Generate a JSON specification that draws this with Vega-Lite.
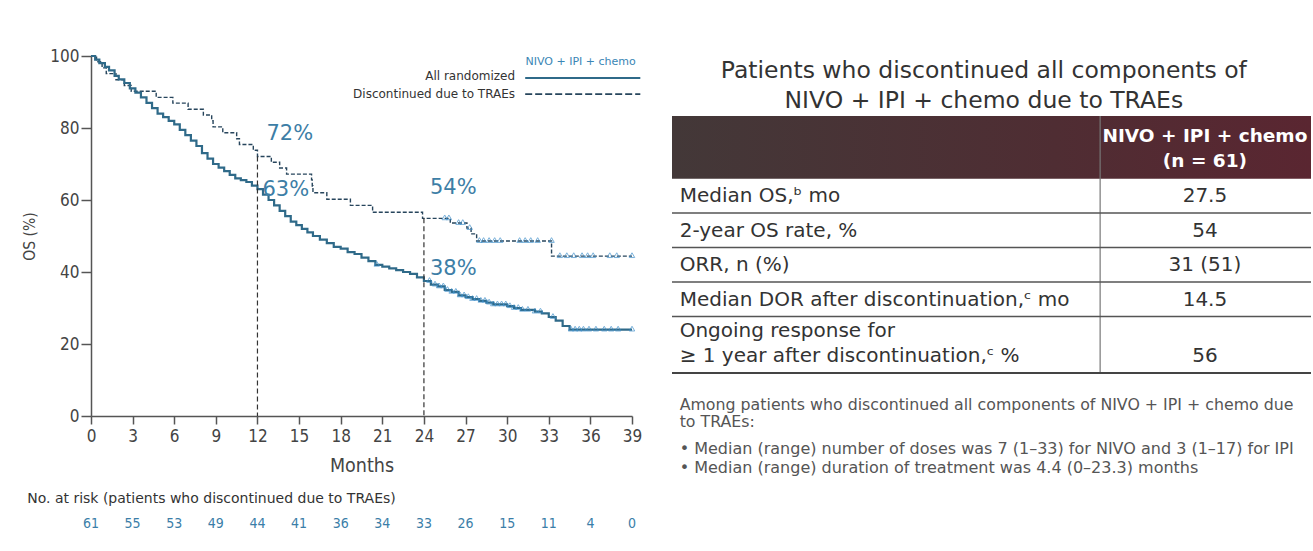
{
  "$schema": "https://vega.github.io/schema/vega-lite/v6.json",
  "padding": {"left": 22, "top": 47, "right": 0, "bottom": 0},
  "bounds": "flush",
  "spacing": 40,
  "background": "white",
  "config": {
    "view": {"stroke": null},
    "font": "DejaVu Sans",
    "axis": {
      "grid": false,
      "domainColor": "#555",
      "domainWidth": 1.5,
      "tickColor": "#555",
      "tickWidth": 1.5,
      "labelColor": "#444",
      "titleColor": "#444",
      "labelFont": "DejaVu Sans Condensed, DejaVu Sans",
      "titleFont": "DejaVu Sans Condensed, DejaVu Sans",
      "titleFontWeight": "normal"
    }
  },
  "datasets": {
    "km": [
      {"arm": "all", "month": 0, "os": 100}, {"arm": "all", "month": 0.3, "os": 99}, {"arm": "all", "month": 0.6, "os": 98},
      {"arm": "all", "month": 1.0, "os": 97}, {"arm": "all", "month": 1.3, "os": 96}, {"arm": "all", "month": 1.7, "os": 94.5},
      {"arm": "all", "month": 2.0, "os": 93.5}, {"arm": "all", "month": 2.4, "os": 92.5}, {"arm": "all", "month": 2.8, "os": 91},
      {"arm": "all", "month": 3.2, "os": 89.8}, {"arm": "all", "month": 3.6, "os": 88.5}, {"arm": "all", "month": 4.0, "os": 87},
      {"arm": "all", "month": 4.4, "os": 85.5}, {"arm": "all", "month": 4.8, "os": 84}, {"arm": "all", "month": 5.2, "os": 83},
      {"arm": "all", "month": 5.6, "os": 82}, {"arm": "all", "month": 6.0, "os": 81}, {"arm": "all", "month": 6.4, "os": 79.5},
      {"arm": "all", "month": 6.8, "os": 78}, {"arm": "all", "month": 7.2, "os": 76.5}, {"arm": "all", "month": 7.6, "os": 75},
      {"arm": "all", "month": 8.0, "os": 73}, {"arm": "all", "month": 8.4, "os": 71.5}, {"arm": "all", "month": 8.8, "os": 70},
      {"arm": "all", "month": 9.2, "os": 69}, {"arm": "all", "month": 9.6, "os": 68}, {"arm": "all", "month": 10.0, "os": 67},
      {"arm": "all", "month": 10.4, "os": 66}, {"arm": "all", "month": 10.8, "os": 65.5}, {"arm": "all", "month": 11.2, "os": 65},
      {"arm": "all", "month": 11.6, "os": 64}, {"arm": "all", "month": 12.0, "os": 63}, {"arm": "all", "month": 12.4, "os": 61.5},
      {"arm": "all", "month": 12.8, "os": 60}, {"arm": "all", "month": 13.2, "os": 58.5}, {"arm": "all", "month": 13.6, "os": 57},
      {"arm": "all", "month": 14.0, "os": 55.5}, {"arm": "all", "month": 14.4, "os": 54}, {"arm": "all", "month": 14.8, "os": 53},
      {"arm": "all", "month": 15.2, "os": 52}, {"arm": "all", "month": 15.6, "os": 51}, {"arm": "all", "month": 16.0, "os": 50},
      {"arm": "all", "month": 16.5, "os": 49}, {"arm": "all", "month": 17.0, "os": 48}, {"arm": "all", "month": 17.5, "os": 47},
      {"arm": "all", "month": 18.0, "os": 46.5}, {"arm": "all", "month": 18.5, "os": 45.5}, {"arm": "all", "month": 19.0, "os": 45},
      {"arm": "all", "month": 19.5, "os": 44}, {"arm": "all", "month": 20.0, "os": 43}, {"arm": "all", "month": 20.5, "os": 42},
      {"arm": "all", "month": 21.0, "os": 41.5}, {"arm": "all", "month": 21.5, "os": 41}, {"arm": "all", "month": 22.0, "os": 40.5},
      {"arm": "all", "month": 22.5, "os": 40}, {"arm": "all", "month": 23.0, "os": 39.5}, {"arm": "all", "month": 23.5, "os": 38.5},
      {"arm": "all", "month": 24.0, "os": 37.5}, {"arm": "all", "month": 24.5, "os": 36.5}, {"arm": "all", "month": 25.0, "os": 36},
      {"arm": "all", "month": 25.5, "os": 35}, {"arm": "all", "month": 26.0, "os": 34.5}, {"arm": "all", "month": 26.5, "os": 33.5},
      {"arm": "all", "month": 27.0, "os": 33}, {"arm": "all", "month": 27.5, "os": 32.5}, {"arm": "all", "month": 28.0, "os": 32},
      {"arm": "all", "month": 28.5, "os": 31.5}, {"arm": "all", "month": 29.0, "os": 31}, {"arm": "all", "month": 30.0, "os": 30.5},
      {"arm": "all", "month": 30.5, "os": 30}, {"arm": "all", "month": 31.0, "os": 29.5}, {"arm": "all", "month": 32.0, "os": 29},
      {"arm": "all", "month": 32.5, "os": 28.5}, {"arm": "all", "month": 33.0, "os": 27.5}, {"arm": "all", "month": 33.5, "os": 26.5},
      {"arm": "all", "month": 34.0, "os": 25}, {"arm": "all", "month": 34.5, "os": 24}, {"arm": "all", "month": 39.0, "os": 24},
      {"arm": "trae", "month": 0, "os": 100}, {"arm": "trae", "month": 0.4, "os": 98.4}, {"arm": "trae", "month": 0.8, "os": 96.7},
      {"arm": "trae", "month": 1.1, "os": 95.1}, {"arm": "trae", "month": 1.8, "os": 93.4}, {"arm": "trae", "month": 2.4, "os": 91.8},
      {"arm": "trae", "month": 2.9, "os": 90.2}, {"arm": "trae", "month": 4.7, "os": 88.5}, {"arm": "trae", "month": 5.9, "os": 86.9},
      {"arm": "trae", "month": 7.0, "os": 85.2}, {"arm": "trae", "month": 8.1, "os": 83.6}, {"arm": "trae", "month": 8.7, "os": 82.0},
      {"arm": "trae", "month": 8.8, "os": 80.3}, {"arm": "trae", "month": 9.5, "os": 78.7}, {"arm": "trae", "month": 10.5, "os": 77.0},
      {"arm": "trae", "month": 10.7, "os": 75.4}, {"arm": "trae", "month": 11.7, "os": 73.8}, {"arm": "trae", "month": 12.0, "os": 72.1},
      {"arm": "trae", "month": 13.0, "os": 70.5}, {"arm": "trae", "month": 13.6, "os": 68.9}, {"arm": "trae", "month": 14.1, "os": 67.2},
      {"arm": "trae", "month": 15.9, "os": 65.6}, {"arm": "trae", "month": 15.95, "os": 63.9}, {"arm": "trae", "month": 16.0, "os": 62.0},
      {"arm": "trae", "month": 17.0, "os": 60.2}, {"arm": "trae", "month": 18.7, "os": 58.5}, {"arm": "trae", "month": 20.3, "os": 56.6},
      {"arm": "trae", "month": 23.9, "os": 54.9}, {"arm": "trae", "month": 25.9, "os": 53.6}, {"arm": "trae", "month": 27.1, "os": 52.2},
      {"arm": "trae", "month": 27.4, "os": 50.6}, {"arm": "trae", "month": 27.8, "os": 48.6}, {"arm": "trae", "month": 33.2, "os": 44.4},
      {"arm": "trae", "month": 39.0, "os": 44.4}
    ],
    "censor": [
      {"arm": "all", "month": 20.6, "os": 42}, {"arm": "all", "month": 24.4, "os": 37.5}, {"arm": "all", "month": 24.8, "os": 36.5},
      {"arm": "all", "month": 25.1, "os": 36}, {"arm": "all", "month": 25.4, "os": 36}, {"arm": "all", "month": 25.7, "os": 35},
      {"arm": "all", "month": 26.0, "os": 34.5}, {"arm": "all", "month": 26.3, "os": 34.5}, {"arm": "all", "month": 26.6, "os": 33.5},
      {"arm": "all", "month": 26.9, "os": 33.5}, {"arm": "all", "month": 27.2, "os": 33}, {"arm": "all", "month": 27.5, "os": 32.5},
      {"arm": "all", "month": 27.8, "os": 32.5}, {"arm": "all", "month": 28.1, "os": 32}, {"arm": "all", "month": 28.4, "os": 32},
      {"arm": "all", "month": 28.7, "os": 31.5}, {"arm": "all", "month": 29.0, "os": 31}, {"arm": "all", "month": 29.3, "os": 31},
      {"arm": "all", "month": 29.6, "os": 31}, {"arm": "all", "month": 29.9, "os": 31}, {"arm": "all", "month": 30.2, "os": 30.5},
      {"arm": "all", "month": 30.5, "os": 30}, {"arm": "all", "month": 30.8, "os": 30}, {"arm": "all", "month": 31.1, "os": 29.5},
      {"arm": "all", "month": 31.5, "os": 29.5}, {"arm": "all", "month": 32.0, "os": 29}, {"arm": "all", "month": 32.4, "os": 29},
      {"arm": "all", "month": 33.3, "os": 27.5}, {"arm": "all", "month": 34.6, "os": 24}, {"arm": "all", "month": 34.9, "os": 24},
      {"arm": "all", "month": 35.2, "os": 24}, {"arm": "all", "month": 35.5, "os": 24}, {"arm": "all", "month": 35.9, "os": 24},
      {"arm": "all", "month": 36.4, "os": 24}, {"arm": "all", "month": 37.0, "os": 24}, {"arm": "all", "month": 37.5, "os": 24},
      {"arm": "all", "month": 38.0, "os": 24}, {"arm": "all", "month": 39.0, "os": 24},
      {"arm": "trae", "month": 25.5, "os": 54.9}, {"arm": "trae", "month": 25.8, "os": 54.9}, {"arm": "trae", "month": 26.5, "os": 53.6},
      {"arm": "trae", "month": 26.8, "os": 53.6}, {"arm": "trae", "month": 27.3, "os": 52.2}, {"arm": "trae", "month": 28.0, "os": 48.6},
      {"arm": "trae", "month": 28.3, "os": 48.6}, {"arm": "trae", "month": 28.7, "os": 48.6}, {"arm": "trae", "month": 29.1, "os": 48.6},
      {"arm": "trae", "month": 29.5, "os": 48.6}, {"arm": "trae", "month": 30.9, "os": 48.6}, {"arm": "trae", "month": 31.3, "os": 48.6},
      {"arm": "trae", "month": 31.7, "os": 48.6}, {"arm": "trae", "month": 32.2, "os": 48.6}, {"arm": "trae", "month": 33.2, "os": 48.6},
      {"arm": "trae", "month": 33.8, "os": 44.4}, {"arm": "trae", "month": 34.3, "os": 44.4}, {"arm": "trae", "month": 34.8, "os": 44.4},
      {"arm": "trae", "month": 35.4, "os": 44.4}, {"arm": "trae", "month": 35.8, "os": 44.4}, {"arm": "trae", "month": 36.2, "os": 44.4},
      {"arm": "trae", "month": 37.4, "os": 44.4}, {"arm": "trae", "month": 37.9, "os": 44.4}, {"arm": "trae", "month": 39.0, "os": 44.4}
    ],
    "landmarks": [
      {"arm": "trae", "month": 12, "os": 72.1, "label": "72%"},
      {"arm": "all", "month": 12, "os": 63, "label": "63%"},
      {"arm": "trae", "month": 24, "os": 54.9, "label": "54%"},
      {"arm": "all", "month": 24, "os": 37.5, "label": "38%"}
    ],
    "risk": [
      {"month": 0, "n": 61}, {"month": 3, "n": 55}, {"month": 6, "n": 53}, {"month": 9, "n": 49},
      {"month": 12, "n": 44}, {"month": 15, "n": 41}, {"month": 18, "n": 36}, {"month": 21, "n": 34},
      {"month": 24, "n": 33}, {"month": 27, "n": 26}, {"month": 30, "n": 15}, {"month": 33, "n": 11},
      {"month": 36, "n": 4}, {"month": 39, "n": 0}
    ],
    "legend": [
      {"arm": "all", "label": "All randomized"},
      {"arm": "trae", "label": "Discontinued due to TRAEs"}
    ],
    "misc": [
      {"key": "legendTitle", "text": "NIVO + IPI + chemo"},
      {"key": "risk", "text": "No. at risk (patients who discontinued due to TRAEs)"},
      {"key": "heading", "text": "Patients who discontinued all components of\nNIVO + IPI + chemo due to TRAEs"},
      {"key": "header", "text": "NIVO + IPI + chemo\n(n = 61)"},
      {"key": "intro", "text": "Among patients who discontinued all components of NIVO + IPI + chemo due\nto TRAEs:"},
      {"key": "bullets", "text": "•  Median (range) number of doses was 7 (1–33) for NIVO and 3 (1–17) for IPI\n•  Median (range) duration of treatment was 4.4 (0–23.3) months"}
    ],
    "table": [
      {"row": 1, "item": "Median OS,ᵇ mo", "value": "27.5"},
      {"row": 2, "item": "2-year OS rate, %", "value": "54"},
      {"row": 3, "item": "ORR, n (%)", "value": "31 (51)"},
      {"row": 4, "item": "Median DOR after discontinuation,ᶜ mo", "value": "14.5"},
      {"row": 5, "item": "Ongoing response for\n≥ 1 year after discontinuation,ᶜ %", "value": "56"}
    ]
  },
  "hconcat": [
    {
      "width": 541,
      "height": 360,
      "layer": [
        {
          "data": {"name": "km"},
          "transform": [{"filter": "datum.arm == 'trae'"}],
          "mark": {"type": "line", "interpolate": "step-after", "stroke": "#27455c", "strokeWidth": 1.4, "strokeDash": [4, 2]},
          "encoding": {
            "x": {"field": "month", "type": "quantitative", "title": "Months",
                  "scale": {"domain": [0, 39], "nice": false, "zero": false},
                  "axis": {"values": [0, 3, 6, 9, 12, 15, 18, 21, 24, 27, 30, 33, 36, 39], "tickSize": 8, "labelPadding": 4, "labelFontSize": 17, "titleFontSize": 19.5, "titlePadding": 12, "labelFlush": false}},
            "y": {"field": "os", "type": "quantitative", "title": "OS (%)",
                  "scale": {"domain": [0, 100], "nice": false, "zero": false},
                  "axis": {"values": [0, 20, 40, 60, 80, 100], "tickSize": 10, "labelPadding": 2, "labelFontSize": 17, "titleFontSize": 15.5, "titlePadding": 12}}
          }
        },
        {
          "data": {"name": "km"},
          "transform": [{"filter": "datum.arm == 'all'"}],
          "mark": {"type": "line", "interpolate": "step-after", "stroke": "#2f6a89", "strokeWidth": 2.2},
          "encoding": {
            "x": {"field": "month", "type": "quantitative", "title": "Months", "scale": {"domain": [0, 39], "nice": false, "zero": false}},
            "y": {"field": "os", "type": "quantitative", "title": "OS (%)", "scale": {"domain": [0, 100], "nice": false, "zero": false}}
          }
        },
        {
          "data": {"name": "censor"},
          "mark": {"type": "point", "shape": "triangle-up", "filled": false, "size": 30, "stroke": "#3f8fca", "strokeWidth": 1, "yOffset": -1},
          "encoding": {
            "x": {"field": "month", "type": "quantitative", "title": "Months", "scale": {"domain": [0, 39], "nice": false, "zero": false}},
            "y": {"field": "os", "type": "quantitative", "title": "OS (%)", "scale": {"domain": [0, 100], "nice": false, "zero": false}}
          }
        },
        {
          "data": {"name": "landmarks"},
          "transform": [{"filter": "datum.arm == 'trae'"}],
          "mark": {"type": "rule", "stroke": "#333", "strokeWidth": 1.2, "strokeDash": [5, 3]},
          "encoding": {
            "x": {"field": "month", "type": "quantitative", "title": "Months", "scale": {"domain": [0, 39], "nice": false, "zero": false}},
            "y": {"field": "os", "type": "quantitative", "title": "OS (%)", "scale": {"domain": [0, 100], "nice": false, "zero": false}},
            "y2": {"datum": 0}
          }
        },
        {
          "data": {"name": "landmarks"},
          "transform": [{"filter": "datum.label == '72%'"}],
          "mark": {"type": "text", "align": "left", "baseline": "middle", "dx": 9, "dy": -22, "fontSize": 21, "fill": "#3d7ea6"},
          "encoding": {
            "x": {"field": "month", "type": "quantitative", "title": "Months", "scale": {"domain": [0, 39], "nice": false, "zero": false}},
            "y": {"field": "os", "type": "quantitative", "title": "OS (%)", "scale": {"domain": [0, 100], "nice": false, "zero": false}},
            "text": {"field": "label"}
          }
        },
        {
          "data": {"name": "landmarks"},
          "transform": [{"filter": "datum.label == '63%'"}],
          "mark": {"type": "text", "align": "left", "baseline": "middle", "dx": 5, "dy": 1, "fontSize": 21, "fill": "#3d7ea6"},
          "encoding": {
            "x": {"field": "month", "type": "quantitative", "title": "Months", "scale": {"domain": [0, 39], "nice": false, "zero": false}},
            "y": {"field": "os", "type": "quantitative", "title": "OS (%)", "scale": {"domain": [0, 100], "nice": false, "zero": false}},
            "text": {"field": "label"}
          }
        },
        {
          "data": {"name": "landmarks"},
          "transform": [{"filter": "datum.label == '54%'"}],
          "mark": {"type": "text", "align": "left", "baseline": "middle", "dx": 6, "dy": -30, "fontSize": 21, "fill": "#3d7ea6"},
          "encoding": {
            "x": {"field": "month", "type": "quantitative", "title": "Months", "scale": {"domain": [0, 39], "nice": false, "zero": false}},
            "y": {"field": "os", "type": "quantitative", "title": "OS (%)", "scale": {"domain": [0, 100], "nice": false, "zero": false}},
            "text": {"field": "label"}
          }
        },
        {
          "data": {"name": "landmarks"},
          "transform": [{"filter": "datum.label == '38%'"}],
          "mark": {"type": "text", "align": "left", "baseline": "middle", "dx": 6, "dy": -12, "fontSize": 21, "fill": "#3d7ea6"},
          "encoding": {
            "x": {"field": "month", "type": "quantitative", "title": "Months", "scale": {"domain": [0, 39], "nice": false, "zero": false}},
            "y": {"field": "os", "type": "quantitative", "title": "OS (%)", "scale": {"domain": [0, 100], "nice": false, "zero": false}},
            "text": {"field": "label"}
          }
        },
        {
          "data": {"name": "risk"},
          "mark": {"type": "text", "align": "center", "baseline": "middle", "fontSize": 14, "fill": "#3b7ea8", "font": "DejaVu Sans Condensed, DejaVu Sans"},
          "encoding": {
            "x": {"field": "month", "type": "quantitative", "title": "Months", "scale": {"domain": [0, 39], "nice": false, "zero": false}},
            "y": {"datum": -30, "type": "quantitative", "title": "OS (%)", "scale": {"domain": [0, 100], "nice": false, "zero": false}},
            "text": {"field": "n"}
          }
        },
        {
          "data": {"name": "misc"},
          "transform": [{"filter": "datum.key == 'risk'"}],
          "mark": {"type": "text", "align": "left", "baseline": "middle", "fontSize": 14, "fill": "#333"},
          "encoding": {
            "x": {"datum": -4.6, "type": "quantitative", "title": "Months", "scale": {"domain": [0, 39], "nice": false, "zero": false}},
            "y": {"datum": -23.06, "type": "quantitative", "title": "OS (%)", "scale": {"domain": [0, 100], "nice": false, "zero": false}},
            "text": {"field": "text"}
          }
        },
        {
          "data": {"name": "misc"},
          "transform": [{"filter": "datum.key == 'legendTitle'"}],
          "mark": {"type": "text", "align": "center", "baseline": "middle", "fontSize": 11, "fill": "#3a86b5"},
          "encoding": {
            "x": {"datum": 35.3, "type": "quantitative", "title": "Months", "scale": {"domain": [0, 39], "nice": false, "zero": false}},
            "y": {"datum": 98.3, "type": "quantitative", "title": "OS (%)", "scale": {"domain": [0, 100], "nice": false, "zero": false}},
            "text": {"field": "text"}
          }
        },
        {
          "data": {"name": "legend"},
          "transform": [{"filter": "datum.arm == 'all'"}],
          "mark": {"type": "text", "align": "right", "baseline": "middle", "fontSize": 12, "fill": "#333"},
          "encoding": {
            "x": {"datum": 30.57, "type": "quantitative", "title": "Months", "scale": {"domain": [0, 39], "nice": false, "zero": false}},
            "y": {"datum": 94.4, "type": "quantitative", "title": "OS (%)", "scale": {"domain": [0, 100], "nice": false, "zero": false}},
            "text": {"field": "label"}
          }
        },
        {
          "data": {"name": "legend"},
          "transform": [{"filter": "datum.arm == 'trae'"}],
          "mark": {"type": "text", "align": "right", "baseline": "middle", "fontSize": 12, "fill": "#333"},
          "encoding": {
            "x": {"datum": 30.57, "type": "quantitative", "title": "Months", "scale": {"domain": [0, 39], "nice": false, "zero": false}},
            "y": {"datum": 89.4, "type": "quantitative", "title": "OS (%)", "scale": {"domain": [0, 100], "nice": false, "zero": false}},
            "text": {"field": "label"}
          }
        },
        {
          "data": {"name": "legend"},
          "transform": [{"filter": "datum.arm == 'all'"}],
          "mark": {"type": "rule", "stroke": "#2f6a89", "strokeWidth": 2},
          "encoding": {
            "x": {"datum": 31.3, "type": "quantitative", "title": "Months", "scale": {"domain": [0, 39], "nice": false, "zero": false}},
            "x2": {"datum": 39.6},
            "y": {"datum": 93.9, "type": "quantitative", "title": "OS (%)", "scale": {"domain": [0, 100], "nice": false, "zero": false}}
          }
        },
        {
          "data": {"name": "legend"},
          "transform": [{"filter": "datum.arm == 'trae'"}],
          "mark": {"type": "rule", "stroke": "#27455c", "strokeWidth": 1.6, "strokeDash": [7, 3]},
          "encoding": {
            "x": {"datum": 31.3, "type": "quantitative", "title": "Months", "scale": {"domain": [0, 39], "nice": false, "zero": false}},
            "x2": {"datum": 39.6},
            "y": {"datum": 89.4, "type": "quantitative", "title": "OS (%)", "scale": {"domain": [0, 100], "nice": false, "zero": false}}
          }
        }
      ]
    },
    {
      "width": 639,
      "height": 317,
      "layer": [
        {
          "data": {"name": "misc"},
          "transform": [{"filter": "datum.key == 'header'"}],
          "mark": {"type": "rect", "fill": {"gradient": "linear", "x1": 0, "x2": 1, "y1": 0, "y2": 0, "stops": [{"offset": 0, "color": "#433838"}, {"offset": 0.6, "color": "#4f2d33"}, {"offset": 1, "color": "#5a2631"}]}},
          "encoding": {
            "x": {"datum": 0, "type": "quantitative", "scale": {"domain": [0, 1], "nice": false, "zero": false}, "axis": null},
            "x2": {"datum": 1},
            "y": {"datum": -1.32, "type": "quantitative", "scale": {"domain": [-3.058, 6.13], "nice": false, "zero": false, "reverse": true}, "axis": null},
            "y2": {"datum": 0.5}
          }
        },
        {
          "data": {"name": "misc"},
          "transform": [{"filter": "datum.key == 'heading'"}],
          "mark": {"type": "text", "align": "center", "baseline": "middle", "fontSize": 23.5, "fill": "#333", "lineBreak": "\n", "lineHeight": 30},
          "encoding": {
            "x": {"datum": 0.488, "type": "quantitative", "scale": {"domain": [0, 1], "nice": false, "zero": false}, "axis": null},
            "y": {"datum": -2.623, "type": "quantitative", "scale": {"domain": [-3.058, 6.13], "nice": false, "zero": false, "reverse": true}, "axis": null},
            "text": {"field": "text"}
          }
        },
        {
          "data": {"name": "misc"},
          "transform": [{"filter": "datum.key == 'header'"}],
          "mark": {"type": "text", "align": "center", "baseline": "middle", "fontSize": 18.5, "fontWeight": "bold", "fill": "white", "lineBreak": "\n", "lineHeight": 25},
          "encoding": {
            "x": {"datum": 0.834, "type": "quantitative", "scale": {"domain": [0, 1], "nice": false, "zero": false}, "axis": null},
            "y": {"datum": -0.739, "type": "quantitative", "scale": {"domain": [-3.058, 6.13], "nice": false, "zero": false, "reverse": true}, "axis": null},
            "text": {"field": "text"}
          }
        },
        {
          "data": {"name": "misc"},
          "transform": [{"filter": "datum.key == 'header'"}],
          "mark": {"type": "rule", "stroke": "#777", "strokeWidth": 1.2},
          "encoding": {
            "x": {"datum": 0.67, "type": "quantitative", "scale": {"domain": [0, 1], "nice": false, "zero": false}, "axis": null},
            "y": {"datum": -1.32, "type": "quantitative", "scale": {"domain": [-3.058, 6.13], "nice": false, "zero": false, "reverse": true}, "axis": null},
            "y2": {"datum": 6.13}
          }
        },
        {
          "data": {"name": "misc"},
          "transform": [{"filter": "datum.key == 'header'"}],
          "mark": {"type": "rule", "stroke": "#444", "strokeWidth": 2},
          "encoding": {
            "x": {"datum": 0, "type": "quantitative", "scale": {"domain": [0, 1], "nice": false, "zero": false}, "axis": null},
            "x2": {"datum": 1},
            "y": {"datum": 6.13, "type": "quantitative", "scale": {"domain": [-3.058, 6.13], "nice": false, "zero": false, "reverse": true}, "axis": null}
          }
        },
        {
          "data": {"name": "table"},
          "transform": [{"filter": "datum.row <= 4"}],
          "mark": {"type": "rule", "stroke": "#555", "strokeWidth": 1.6, "yOffset": 17},
          "encoding": {
            "x": {"datum": 0, "type": "quantitative", "scale": {"domain": [0, 1], "nice": false, "zero": false}, "axis": null},
            "x2": {"datum": 1},
            "y": {"field": "row", "type": "quantitative", "scale": {"domain": [-3.058, 6.13], "nice": false, "zero": false, "reverse": true}, "axis": null}
          }
        },
        {
          "data": {"name": "table"},
          "transform": [{"filter": "datum.row <= 4"}],
          "mark": {"type": "text", "align": "left", "baseline": "middle", "fontSize": 20, "fill": "#333"},
          "encoding": {
            "x": {"datum": 0.012, "type": "quantitative", "scale": {"domain": [0, 1], "nice": false, "zero": false}, "axis": null},
            "y": {"field": "row", "type": "quantitative", "scale": {"domain": [-3.058, 6.13], "nice": false, "zero": false, "reverse": true}, "axis": null},
            "text": {"field": "item"}
          }
        },
        {
          "data": {"name": "table"},
          "transform": [{"filter": "datum.row == 5"}],
          "mark": {"type": "text", "align": "left", "baseline": "middle", "fontSize": 20, "fill": "#333", "lineBreak": "\n", "lineHeight": 25, "dy": -3},
          "encoding": {
            "x": {"datum": 0.012, "type": "quantitative", "scale": {"domain": [0, 1], "nice": false, "zero": false}, "axis": null},
            "y": {"field": "row", "type": "quantitative", "scale": {"domain": [-3.058, 6.13], "nice": false, "zero": false, "reverse": true}, "axis": null},
            "text": {"field": "item"}
          }
        },
        {
          "data": {"name": "table"},
          "transform": [{"filter": "datum.row <= 4"}],
          "mark": {"type": "text", "align": "center", "baseline": "middle", "fontSize": 20, "fill": "#333"},
          "encoding": {
            "x": {"datum": 0.834, "type": "quantitative", "scale": {"domain": [0, 1], "nice": false, "zero": false}, "axis": null},
            "y": {"field": "row", "type": "quantitative", "scale": {"domain": [-3.058, 6.13], "nice": false, "zero": false, "reverse": true}, "axis": null},
            "text": {"field": "value"}
          }
        },
        {
          "data": {"name": "table"},
          "transform": [{"filter": "datum.row == 5"}],
          "mark": {"type": "text", "align": "center", "baseline": "middle", "fontSize": 20, "fill": "#333", "dy": 22},
          "encoding": {
            "x": {"datum": 0.834, "type": "quantitative", "scale": {"domain": [0, 1], "nice": false, "zero": false}, "axis": null},
            "y": {"field": "row", "type": "quantitative", "scale": {"domain": [-3.058, 6.13], "nice": false, "zero": false, "reverse": true}, "axis": null},
            "text": {"field": "value"}
          }
        },
        {
          "data": {"name": "misc"},
          "transform": [{"filter": "datum.key == 'intro'"}],
          "mark": {"type": "text", "align": "left", "baseline": "middle", "fontSize": 15.8, "fill": "#555", "lineBreak": "\n", "lineHeight": 17},
          "encoding": {
            "x": {"datum": 0.012, "type": "quantitative", "scale": {"domain": [0, 1], "nice": false, "zero": false}, "axis": null},
            "y": {"datum": 7.058, "type": "quantitative", "scale": {"domain": [-3.058, 6.13], "nice": false, "zero": false, "reverse": true}, "axis": null},
            "text": {"field": "text"}
          }
        },
        {
          "data": {"name": "misc"},
          "transform": [{"filter": "datum.key == 'bullets'"}],
          "mark": {"type": "text", "align": "left", "baseline": "middle", "fontSize": 16, "fill": "#555", "lineBreak": "\n", "lineHeight": 19},
          "encoding": {
            "x": {"datum": 0.012, "type": "quantitative", "scale": {"domain": [0, 1], "nice": false, "zero": false}, "axis": null},
            "y": {"datum": 8.333, "type": "quantitative", "scale": {"domain": [-3.058, 6.13], "nice": false, "zero": false, "reverse": true}, "axis": null},
            "text": {"field": "text"}
          }
        }
      ]
    }
  ]
}
